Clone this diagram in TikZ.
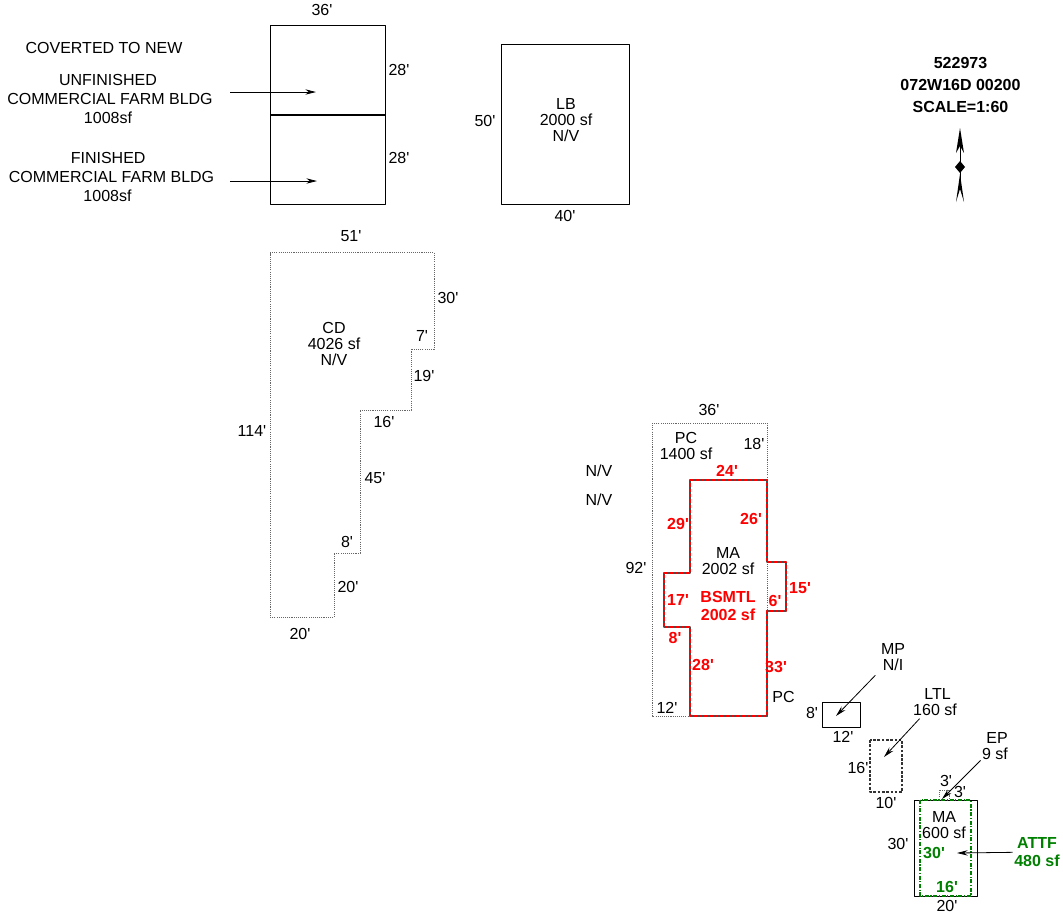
\documentclass[tikz,border=0pt]{standalone}
\usepackage{fontspec}
\usetikzlibrary{arrows.meta}
\newfontfamily\planfont{Liberation Sans}
\newfontfamily\planbold{Liberation Sans Bold}
\definecolor{attfgreen}{RGB}{0,128,0}
\tikzset{
 lbl/.style={inner sep=1pt,align=center,text=black},
 redlbl/.style={lbl,text=red,font=\fontsize{12pt}{13pt}\planbold},
 grnlbl/.style={lbl,text=attfgreen,font=\fontsize{12pt}{13pt}\planbold},
 boldlbl/.style={lbl,font=\fontsize{12pt}{16.5pt}\planbold},
 sunk/.style={draw=black,line width=0.6pt},
 dotline/.style={draw=black!60,line width=0.6pt,dash pattern=on 0.8pt off 0.8pt},
 tip/.style={->,line width=0.6pt}
}
\begin{document}
\begin{tikzpicture}[x=0.75pt,y=-0.75pt,font=\fontsize{12pt}{12.3pt}\planfont,line join=round,>={Stealth[length=8pt,width=4pt]}]
 \useasboundingbox (0,0) rectangle (1063,915);
 \fill[white] (0,0) rectangle (1063,915);
 % buildings
 \draw[sunk] (270,25) rectangle (385,204.6);
 \draw[sunk,line width=1pt] (270,115)--(385,115);
 \draw[sunk] (501,44) rectangle (629,204.6);
 \draw[dotline] (270,252.6)--(434,252.6)--(434,349)--(411,349)--(411,410)--(360,410)--(360,553)--(334,553)--(334,617)--(270,617)--cycle;
 \draw[dotline] (652,423) rectangle (767,716);
 \draw[black!70,line width=1.1pt] (690,480)--(767,480)--(767,562)--(786,562)--(786,611)--(767,611)--(767,716)--(690,716)--(690,627)--(664,627)--(664,573)--(690,573)--cycle;
 \draw[red,line width=1.1pt,dash pattern=on 2.5pt off 1.5pt] (690,480)--(767,480)--(767,562)--(786,562)--(786,611)--(767,611)--(767,716)--(690,716)--(690,627)--(664,627)--(664,573)--(690,573)--cycle;
 \draw[sunk] (822,702) rectangle (860,727);
 \draw[black!80,line width=0.8pt,dash pattern=on 2pt off 1.2pt] (870,740) rectangle (902,792);
 \draw[dotline] (939,790) rectangle (949,800);
 \draw[sunk] (914,800) rectangle (977,896);
 \draw[attfgreen,line width=1pt,dash pattern=on 3pt off 1.2pt on 0.9pt off 1.2pt] (920,800) rectangle (971,896);
 % north arrow
 \fill (960,128)--(964,153)--(960,146)--(956,153)--cycle;
 \draw[line width=0.6pt] (960,146)--(960,180);
 \fill (960,167) circle (3.5);
 \fill (960,161)--(965,167)--(960,173)--(955,167)--cycle;
 \fill (960,174)--(964,202)--(960,189)--(956,202)--cycle;
 % text
 \foreach \px/\py/\txt [count=\i] in {322/10/36',399/70/28',399/158/28',485/121/50',565/216/40',351/236/51',448/298/30',422/336/7',424/376/19',384/422/16',375/478/45',347/542/8',348/587/20',300/634/20',252/431/114',709/410/36',754/444/18',636/568/92',667/708/12',783.5/697/PC,599/471/N\slash V,599/500/N\slash V,812/713/8',843/737/12',858/768/16',886/803/10',946/781/3',960/792/3',898/844/30',947/906/20'}
 \node[lbl] (dim\i) at (\px,\py) {\txt};
 \foreach \px/\py/\txt [count=\i] in {727/471/24',678/524/29',751/519/26',678/600/17',775/601/6',800/588/15',675/638/8',703/665/28',776/667/33'}
 \node[redlbl] (reddim\i) at (\px,\py) {\txt};
 \node[lbl] (covert) at (104,48) {COVERTED TO NEW};
 \node[lbl,outer xsep=13pt] (unfbldg) at (110,99) {UNFINISHED\hspace*{3pt}\\[2pt]COMMERCIAL FARM BLDG\\[2pt]1008sf\hspace*{3pt}};
 \node[lbl,outer xsep=13pt] (finbldg) at (111.5,177) {FINISHED\hspace*{5pt}\\[2pt]COMMERCIAL FARM BLDG\\[2pt]1008sf\hspace*{6pt}};
 \node[lbl] (lb) at (566,120) {LB\\2000 sf\\N/V};
 \node[lbl] (cd) at (334,344) {CD\\4026 sf\\N/V};
 \node[lbl] (pc) at (686,446) {PC\\1400 sf};
 \node[lbl] (mabig) at (728,561) {MA\\2002 sf};
 \node[redlbl] (bsmtl) at (728,606) {BSMTL\\2002 sf};
 \node[boldlbl] (parcel) at (960.5,85) {522973\\072W16D 00200\\SCALE=1:60};
 \node[lbl,inner sep=4pt] (mp) at (893,657) {MP\\N/I};
 \node[lbl,inner sep=2pt] (ltl) at (935,702) {\hspace*{4pt}LTL\\160 sf};
 \node[lbl] (ep) at (995,746) {\hspace*{3pt}EP\\9 sf};
 \node[lbl] (masmall) at (944,825) {MA\\600 sf};
 \node[grnlbl] (attfht) at (934,853) {30'};
 \node[grnlbl] (attfwd) at (947,887) {16'};
 \node[grnlbl] (attf) at (1037,852) {ATTF\\480 sf};
 % arrows
 \coordinate (tipunf) at (316,92);
 \coordinate (tipfin) at (317,181);
 \coordinate (tipmp) at (836,716);
 \coordinate (tipltl) at (884,757);
 \coordinate (tipep) at (942,799);
 \coordinate (tipattf) at (957,853);
 \draw[tip] ([xshift=-1pt]unfbldg.east |- tipunf)--(tipunf);
 \draw[tip] ([xshift=-2pt]finbldg.east |- tipfin)--(tipfin);
 \draw[tip] (mp)--(tipmp);
 \draw[tip] (ltl)--(tipltl);
 \draw[tip] (ep)--(tipep);
 \draw[tip] (attf)--(tipattf);
\end{tikzpicture}
\end{document}
